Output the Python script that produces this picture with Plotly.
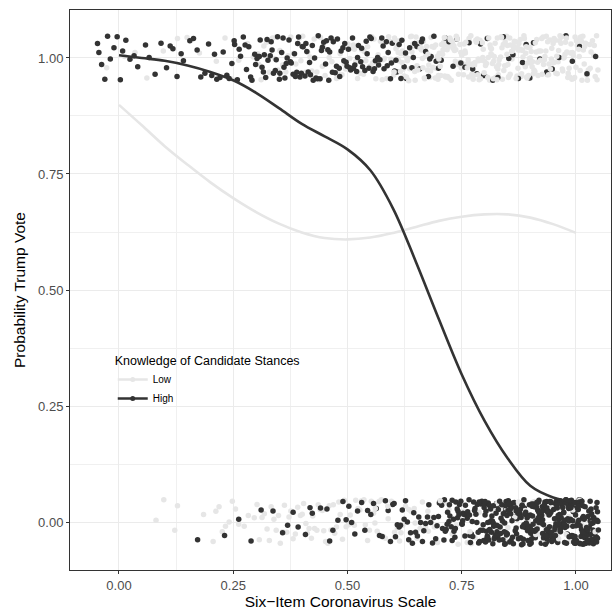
import plotly.graph_objects as go

# ---------------- data ----------------
CURVE_X = [0.0, 0.05, 0.1, 0.15, 0.2, 0.25, 0.3, 0.35, 0.4, 0.45, 0.5,
           0.55, 0.6, 0.65, 0.7, 0.75, 0.8, 0.85, 0.9, 0.95, 1.0]
HIGH_CURVE = [1.006, 1.000, 0.994, 0.984, 0.970, 0.952, 0.925, 0.892, 0.858, 0.831, 0.803,
              0.758, 0.675, 0.560, 0.437, 0.318, 0.218, 0.138, 0.078, 0.053, 0.043]
LOW_CURVE = [0.899, 0.855, 0.810, 0.770, 0.732, 0.698, 0.668, 0.643, 0.624, 0.612, 0.609,
             0.613, 0.623, 0.636, 0.649, 0.658, 0.663, 0.663, 0.656, 0.642, 0.623]

# scale values in thousandths (x) -- outcome = 1 (Trump vote)
TOP_HIGH_X = [-47, -44, -38, -31, -25, -19, -11, -4,
              3, 8, 15, 24, 33, 41, 58, 66, 79, 92,
              104, 112, 118, 127, 136, 141, 155, 163, 171, 179, 188, 196,
              203, 209, 214, 221, 228, 236, 241, 247, 253, 259, 266, 272, 279, 284, 291, 297,
              302, 305, 309, 313, 318, 321, 326, 331, 335, 338, 342, 347, 351, 356, 359, 363, 368, 372, 377, 381, 384, 389, 393, 396, 399,
              403, 407, 411, 414, 419, 423, 428, 431, 436, 440, 443, 448, 452, 457, 461, 464, 469, 473, 478, 482, 486, 490, 494, 497, 499,
              502, 507, 511, 516, 520, 524, 529, 533, 538, 543, 547, 552, 556, 561, 566, 571, 575, 580, 585, 589, 594, 598,
              603, 608, 613, 619, 624, 629, 636, 641, 647, 652, 658, 664, 671, 677, 683, 689, 694, 699,
              705, 714, 722, 731, 739, 748, 757, 766, 774, 783, 791, 798,
              806, 818, 829, 841, 853, 862, 874, 883, 891, 899,
              907, 921, 936, 948, 963, 978, 992, 1008, 1024, 1043]
TOP_HIGH_X2 = [252, 263, 276, 288, 299, 307, 316, 324, 333, 344, 352, 361, 366, 375, 386,
               391, 401, 409, 417, 425, 434, 445, 454, 459, 467, 476, 483, 492, 505, 513,
               522, 531, 541, 549, 559, 568, 578, 587, 596, 606, 617, 627, 644, 662, 680]

TOP_LOW_X = [-27, 12, 35, 61, 97, 128, 149, 176, 213, 232, 248, 262, 281, 294,
             304, 311, 317, 323, 329, 336, 341, 348, 352, 358, 365, 370, 376, 382, 387, 391, 395, 398, 306, 344,
             402, 408, 413, 418, 422, 427, 433, 438, 441, 447, 451, 456, 460, 466, 471, 476, 479, 484, 488, 493, 496, 445,
             501, 505, 509, 513, 518, 522, 527, 531, 535, 540, 544, 549, 553, 558, 562, 567, 572, 576, 581, 586, 590, 595, 599, 515, 537, 555, 578, 592,
             601, 603, 608, 610, 615, 617, 622, 626, 627, 631, 636, 638, 641, 645, 650, 652, 655, 661, 662, 666, 669, 673, 678, 680, 683, 689, 690, 694, 697, 606, 624, 643, 657, 671, 685, 699,
             701, 706, 709, 710, 713, 718, 721, 722, 727, 730, 731, 736, 739, 742, 745, 746, 751, 754, 757, 758, 763, 766, 767, 772, 775, 778, 779, 784, 787, 788, 793, 796, 797, 704, 716, 734, 749, 760, 777, 790,
             802, 803, 808, 811, 812, 817, 820, 823, 824, 829, 830, 835, 838, 839, 844, 845, 850, 853, 856, 857, 862, 863, 868, 871, 872, 877, 880, 881, 886, 889, 890, 895, 898, 805, 815, 832, 848, 860, 875, 892,
             901, 902, 907, 910, 913, 914, 919, 920, 925, 928, 929, 934, 937, 938, 943, 946, 947, 952, 955, 956, 961, 964, 965, 970, 973, 976, 977, 982, 985, 986, 991, 994, 995, 1000, 1003, 1004, 1009, 1012, 1013, 1018, 1021, 1024, 1027, 1030, 1031, 1036, 1039, 1040, 1045, 1048]
TOP_LOW_X2 = [602, 605, 612, 616, 619, 620, 629, 633, 634, 640, 647, 648, 654, 659, 664, 665, 668, 675, 676, 682, 687, 692, 693, 698, 611,
              700, 703, 708, 712, 715, 719, 724, 725, 729, 733, 737, 740, 743, 748, 750, 752, 755, 759, 762, 764, 769, 770, 774, 776, 781, 782, 785, 791, 792, 795, 799, 711, 738, 765, 786,
              800, 804, 807, 809, 814, 816, 819, 821, 826, 827, 831, 836, 837, 841, 842, 846, 851, 852, 855, 859, 861, 864, 866, 869, 873, 874, 878, 883, 884, 887, 891, 893, 896, 899, 813, 828, 849, 865, 879, 894,
              900, 904, 905, 908, 911, 916, 917, 922, 923, 926, 931, 932, 935, 940, 941, 944, 949, 950, 953, 958, 959, 962, 967, 968, 971, 974, 979, 980, 983, 988, 989, 992, 997, 998, 1001, 1006, 1007, 1010, 1015, 1016, 1019, 1025, 1033, 1042, 1046]

# outcome = 0
BOT_LOW_X = [81, 98, 122, 128, 185,
             206, 212, 219, 226, 233, 241, 248, 255, 262, 274, 283, 296,
             302, 307, 313, 318, 324, 329, 333, 339, 344, 349, 353, 358, 362, 367, 372, 376, 381, 386, 391, 397,
             401, 404, 409, 412, 416, 421, 424, 428, 433, 436, 440, 445, 448, 452, 457, 460, 464, 469, 472, 476, 481, 484, 489, 493, 497,
             502, 506, 510, 515, 518, 523, 527, 531, 536, 539, 544, 548, 552, 557, 560, 565, 569, 574, 578, 583, 589, 596,
             603, 609, 614, 621, 627, 634, 639, 646, 652, 659, 664, 671, 677, 684, 690, 697,
             705, 713, 722, 729, 738, 746, 755, 762, 771, 779, 788, 797, 806, 818, 831, 845,
             858, 871, 884, 896, 909, 921, 934, 946, 959, 971, 984, 997, 1012, 1033]
BOT_LOW_X2 = [742, 768, 793, 812, 827, 835, 851, 866, 874, 889, 904, 912, 917, 931, 948,
              956, 962, 979, 987, 993, 1008, 1021, 1037, 1042, 561, 588, 617, 648, 676, 703]

BOT_HIGH_X = [172, 231, 262, 289,
              311, 337, 358, 369, 381, 392,
              408, 418, 423, 441, 455, 461, 468, 479, 490, 497,
              503, 509, 516, 522, 531, 538, 544, 551, 557, 563, 570, 576, 583, 589, 594, 599,
              602, 605, 609, 613, 616, 620, 624, 627, 631, 634, 638, 642, 645, 649, 653, 656, 660, 664, 667, 671, 675, 678, 682, 686, 689, 693, 696, 699,
              701, 703, 706, 708, 711, 714, 716, 719, 722, 724, 727, 729, 732, 735, 737, 740, 742, 745, 748, 750, 753, 755, 758, 761, 763, 766, 768, 771, 774, 776, 779, 781, 784, 787, 789, 792, 794, 797, 799, 712, 733, 751, 769, 786, 798,
              801, 802, 804, 806, 807, 809, 811, 812, 814, 816, 817, 819, 821, 822, 824, 826, 827, 829, 831, 832, 834, 836, 837, 839, 841, 842, 844, 846, 847, 849, 851, 852, 854, 856, 857, 859, 861, 862, 864, 866, 867, 869, 871, 872, 874, 876, 877, 879, 881, 882, 884, 886, 887, 889, 891, 892, 894, 896, 897, 899, 805, 815, 825, 835, 845, 855, 865, 875, 885, 895,
              900, 901, 902, 904, 905, 906, 908, 909, 910, 912, 913, 914, 916, 917, 918, 920, 921, 922, 924, 925, 926, 928, 929, 930, 932, 933, 934, 936, 937, 938, 940, 941, 942, 944, 945, 946, 948, 949, 950, 952, 953, 954, 956, 957, 958, 960, 961, 962, 964, 965, 966, 968, 969, 970, 972, 973, 974, 976, 977, 978, 980, 981, 982, 984, 985, 986, 988, 989, 990, 992, 993, 994, 996, 997, 998,
              1000, 1001, 1002, 1004, 1005, 1006, 1008, 1009, 1010, 1012, 1013, 1014, 1016, 1017, 1018, 1020, 1021, 1022, 1024, 1025, 1026, 1028, 1029, 1030, 1032, 1033, 1034, 1036, 1037, 1038, 1040, 1041, 1042, 1044, 1045, 1046, 1048,
              903, 911, 919, 927, 935, 943, 951, 959, 967, 975, 983, 991, 999, 1007, 1015, 1023, 1031, 1039, 1047]
BOT_HIGH_X2 = [718, 723, 729, 736, 741, 744, 752, 757, 762, 767, 773, 778, 783, 788, 791, 796,
               800, 803, 808, 810, 813, 818, 820, 823, 828, 830, 833, 838, 840, 843, 848, 850, 853, 858, 860, 863, 868, 870, 873, 878, 880, 883, 888, 890, 893, 898,
               801, 807, 819, 826, 844, 851, 857, 869, 886, 896, 811, 847, 882,
               900, 903, 907, 909, 911, 915, 918, 919, 923, 927, 929, 931, 935, 938, 939, 943, 947, 949, 951, 955, 958, 959, 963, 967, 969, 971, 975, 978, 979, 983, 987, 989, 991, 995, 998, 999,
               1003, 1007, 1009, 1011, 1015, 1018, 1019, 1023, 1027, 1029, 1031, 1035, 1038, 1039, 1043, 1047, 1049,
               902, 906, 913, 917, 921, 925, 933, 937, 941, 945, 953, 957, 961, 965, 973, 977, 981, 985, 993, 997,
               1001, 1005, 1013, 1017, 1021, 1025, 1033, 1037, 1041, 1045, 905, 914, 926, 934, 946, 954, 966, 974, 986, 994, 1006, 1014, 1026, 1034, 1046]

# vertical jitter of the plotted points, in thousandths
JITTER = [31, -22, 8, 45, -37, 12, -5, 39, -41, 26,
          -14, 43, 2, -33, 19, -46, 35, -9, 24, -28,
          47, -18, 6, -39, 29, -2, 41, -25, 14, -44,
          22, -11, 37, -30, 4, 46, -20, 17, -36, 9,
          -47, 33, -7, 27, -40, 15, -24, 44, 0, -16,
          38, -34, 11, -43, 25, -3, 30, -27, 48, -12,
          5, -38, 21, -45, 36, -19, 42, -6, 16, -31,
          28, -48, 10, 34, -23, 1, -42, 40, -13, 23,
          -35, 46, -8, 18, -29, 32, -1, -46, 13, 39,
          -21, 7, -37, 43, -15, 26, -44, 3, 35, -26,
          20, -10, 45, -32, 12, -40, 29, -4, 41, -17,
          9, -43, 24, -22, 47, -6, 33, -36, 15, -28,
          37, -2, -47, 22, -13, 42, -30, 6, 31, -39,
          17, -24, 44, -9, 27, -41, 1, 36, -18, 11,
          -33, 48, -11, 19, -45, 30, -7, 40, -26, 14,
          -38, 25, -1, 43, -20, 8, -34, 34, -15, 21,
          -46, 3, 38, -29, 16, -42, 28, -5,
          27, -49, 13, -21, 44, -8, 31, -37, 6, 40,
          -19, 23, -44, 2, 36, -27, 15, -12, 47, -33,
          9, -41, 29, -3, 38, -22, 18, -47, 33, -10,
          42, -16, 4, -35, 26, -29, 11, 45, -40, 20,
          -6, 34, -25, 48, -14, 1, -39, 24, -31, 37,
          -4, 15, -48, 30, -18, 43, -9, 8, -36, 28,
          -23, 46, -1, 19, -43, 35, -12, 3, 41, -26,
          12, -34, 39, -7, 25, -45, 16, -20, 44, -2,
          32, -38, 7, -15, 47, -28, 21, -42, 10, 36,
          -30, 14, -5, 42, -24, 29, -47, 5, 23, -11,
          38, -36, 17, -1, 45, -19, 26, -33, 2, 33,
          -44, 10, -27, 40, -8, 22, -39, 46, -13, 4,
          -21, 37, -46, 18, -3, 31, -32, 12, 48, -17,
          25, -9, 43, -37, 6, -24, 35, -43, 19, -6,
          41, -29, 0, 27, -48, 14, -14, 39, -22, 8,
          -40, 30, -11, 45, -26, 3, 34, -35, 21, -4,
          47, -18, 9, -42, 28, -7, 36, -31, 13]

LEGEND_TITLE = "Knowledge of Candidate Stances"
GROUPS = ["Low", "High"]
X_TICKS = [0, 0.25, 0.5, 0.75, 1.0]
X_TICK_TEXT = ["0.00", "0.25", "0.50", "0.75", "1.00"]
Y_TICKS = [0, 0.25, 0.5, 0.75, 1.0]
Y_TICK_TEXT = ["0.00", "0.25", "0.50", "0.75", "1.00"]

LOW_COLOR = "#e6e6e6"
HIGH_COLOR = "#333333"
FONT = "Liberation Sans, Arial, sans-serif"
MSIZE = 5.5


def points(xs, outcome, start, stride):
    n = len(JITTER)
    x = [v / 1000 for v in xs]
    y = [outcome + JITTER[(start + stride * i) % n] / 1000 for i in range(len(xs))]
    return x, y


tlx, tly = points(TOP_LOW_X, 1, 90, 7)
blx, bly = points(BOT_LOW_X, 0, 200, 11)
thx, thy = points(TOP_HIGH_X, 1, 0, 5)
bhx, bhy = points(BOT_HIGH_X, 0, 150, 13)
tlx2, tly2 = points(TOP_LOW_X2, 1, 33, 17)
blx2, bly2 = points(BOT_LOW_X2, 0, 71, 19)
thx2, thy2 = points(TOP_HIGH_X2, 1, 120, 23)
bhx2, bhy2 = points(BOT_HIGH_X2, 0, 260, 29)

fig = go.Figure()


def add_pts(x, y, col):
    fig.add_trace(go.Scatter(x=x, y=y, mode="markers",
                             marker=dict(color=col, size=MSIZE, line=dict(width=0)),
                             showlegend=False, hoverinfo="skip"))


add_pts(tlx + blx, tly + bly, LOW_COLOR)
add_pts(thx + bhx, thy + bhy, HIGH_COLOR)
add_pts(tlx2 + blx2, tly2 + bly2, LOW_COLOR)
add_pts(thx2 + bhx2, thy2 + bhy2, HIGH_COLOR)

fig.add_trace(go.Scatter(x=CURVE_X, y=LOW_CURVE, mode="lines",
                         line=dict(color=LOW_COLOR, width=2.6, shape="spline"),
                         showlegend=False))
fig.add_trace(go.Scatter(x=CURVE_X, y=HIGH_CURVE, mode="lines",
                         line=dict(color=HIGH_COLOR, width=2.6, shape="spline"),
                         showlegend=False))
# legend keys
for name, col in zip(GROUPS, [LOW_COLOR, HIGH_COLOR]):
    fig.add_trace(go.Scatter(x=[None], y=[None], mode="lines+markers", name=name,
                             line=dict(color=col, width=2.6),
                             marker=dict(color=col, size=5)))

axis_common = dict(
    showline=True, mirror=True, linecolor="#333333", linewidth=1,
    showgrid=True, gridcolor="#ebebeb", gridwidth=1.1,
    zeroline=False, ticks="outside", ticklen=3, tickcolor="#333333",
    tickfont=dict(family=FONT, size=13, color="#4d4d4d"),
    title_font=dict(family=FONT, size=15.5, color="black"),
)

fig.update_xaxes(range=[-0.1072, 1.0766], tickvals=X_TICKS, ticktext=X_TICK_TEXT,
                 title_text="Six\u2212Item Coronavirus Scale", title_standoff=3,
                 minor=dict(dtick=0.125, tick0=0, showgrid=True, gridcolor="#f0f0f0", gridwidth=0.6),
                 **axis_common)
fig.update_yaxes(range=[-0.1034, 1.1034], tickvals=Y_TICKS, ticktext=Y_TICK_TEXT,
                 title_text="Probability Trump Vote", title_standoff=8,
                 minor=dict(dtick=0.125, tick0=0, showgrid=True, gridcolor="#f0f0f0", gridwidth=0.6),
                 **axis_common)

fig.update_layout(
    width=612, height=610,
    margin=dict(l=70, r=1, t=10, b=40),
    paper_bgcolor="white", plot_bgcolor="white",
    font=dict(family=FONT, color="black"),
    legend=dict(x=0.079, y=0.395, xanchor="left", yanchor="top",
                bgcolor="rgba(255,255,255,0)", borderwidth=0,
                title=dict(text=LEGEND_TITLE, font=dict(family=FONT, size=12.5, color="black")),
                font=dict(family=FONT, size=10, color="black"),
                itemwidth=30, tracegroupgap=0),
)

fig.write_html("out.html")
